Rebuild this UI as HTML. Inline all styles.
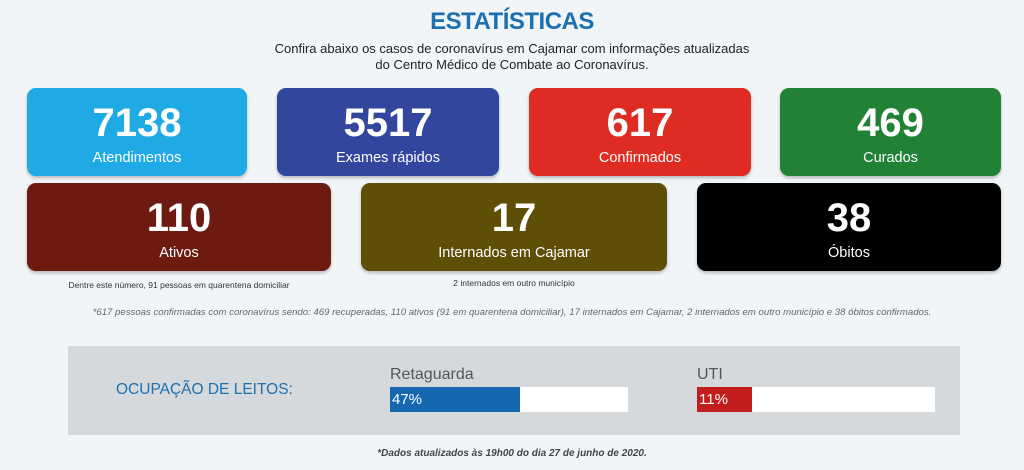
<!DOCTYPE html>
<html><head><meta charset="utf-8"><style>
*{margin:0;padding:0;box-sizing:border-box}
body{width:1024px;height:470px;background:#f2f5f8;font-family:"Liberation Sans",sans-serif;position:relative;overflow:hidden;color:#222}
.a{position:absolute}
.card{position:absolute;border-radius:9px;color:#fff;text-align:center;box-shadow:0 2px 3px rgba(0,0,0,.25)}
.card .n{position:absolute;left:0;right:0;top:13px;font-size:40px;font-weight:bold;line-height:44px}
.card .l{position:absolute;left:0;right:0;top:61px;font-size:14.5px;line-height:18px}
.c{text-align:center}
</style></head><body>
<div class="a c" style="left:0;width:1024px;top:8px;font-size:24px;font-weight:bold;color:#1c70b0;letter-spacing:-0.5px">ESTATÍSTICAS</div>
<div class="a c" style="left:0;width:1024px;top:41px;font-size:13px;line-height:16px;color:#222">Confira abaixo os casos de coronavírus em Cajamar com informações atualizadas<br>do Centro Médico de Combate ao Coronavírus.</div>

<div class="card" style="left:27px;top:88px;width:220px;height:88px;background:#1faae6"><div class="n">7138</div><div class="l">Atendimentos</div></div>
<div class="card" style="left:277px;top:88px;width:222px;height:88px;background:#33469e"><div class="n">5517</div><div class="l">Exames rápidos</div></div>
<div class="card" style="left:529px;top:88px;width:222px;height:88px;background:#de2c22"><div class="n">617</div><div class="l">Confirmados</div></div>
<div class="card" style="left:780px;top:88px;width:221px;height:88px;background:#218236"><div class="n">469</div><div class="l">Curados</div></div>

<div class="card" style="left:27px;top:183px;width:304px;height:88px;background:#6d1a11"><div class="n">110</div><div class="l">Ativos</div></div>
<div class="card" style="left:361px;top:183px;width:306px;height:88px;background:#5e4e06"><div class="n">17</div><div class="l">Internados em Cajamar</div></div>
<div class="card" style="left:697px;top:183px;width:304px;height:88px;background:#000"><div class="n">38</div><div class="l">Óbitos</div></div>

<div class="a c" style="left:27px;width:304px;top:280px;font-size:8.5px;color:#333">Dentre este número, 91 pessoas em quarentena domiciliar</div>
<div class="a c" style="left:361px;width:306px;top:278px;font-size:8.5px;color:#333">2 internados em outro município</div>
<div class="a c" style="left:0;width:1024px;top:307px;font-size:9.6px;font-style:italic;color:#666">*617 pessoas confirmadas com coronavírus sendo: 469 recuperadas, 110 ativos (91 em quarentena domiciliar), 17 internados em Cajamar, 2 internados em outro município e 38 óbitos confirmados.</div>

<div class="a" style="left:68px;top:346px;width:892px;height:89px;background:#d6d9dc"></div>
<div class="a" style="left:116px;top:381px;font-size:15.5px;color:#1c70b0">OCUPAÇÃO DE LEITOS:</div>
<div class="a" style="left:390px;top:366px;font-size:16px;color:#555">Retaguarda</div>
<div class="a" style="left:390px;top:387px;width:238px;height:25px;background:#fff"></div>
<div class="a" style="left:390px;top:387px;width:130px;height:25px;background:#1568b0;color:#fff;font-size:15px;line-height:25px;padding-left:2px">47%</div>
<div class="a" style="left:697px;top:366px;font-size:16px;color:#555">UTI</div>
<div class="a" style="left:697px;top:387px;width:238px;height:25px;background:#fff"></div>
<div class="a" style="left:697px;top:387px;width:55px;height:25px;background:#c41d1d;color:#fff;font-size:15px;line-height:25px;padding-left:2px">11%</div>

<div class="a c" style="left:0;width:1024px;top:448px;font-size:10px;font-weight:bold;font-style:italic;color:#444">*Dados atualizados às 19h00 do dia 27 de junho de 2020.</div>
</body></html>
